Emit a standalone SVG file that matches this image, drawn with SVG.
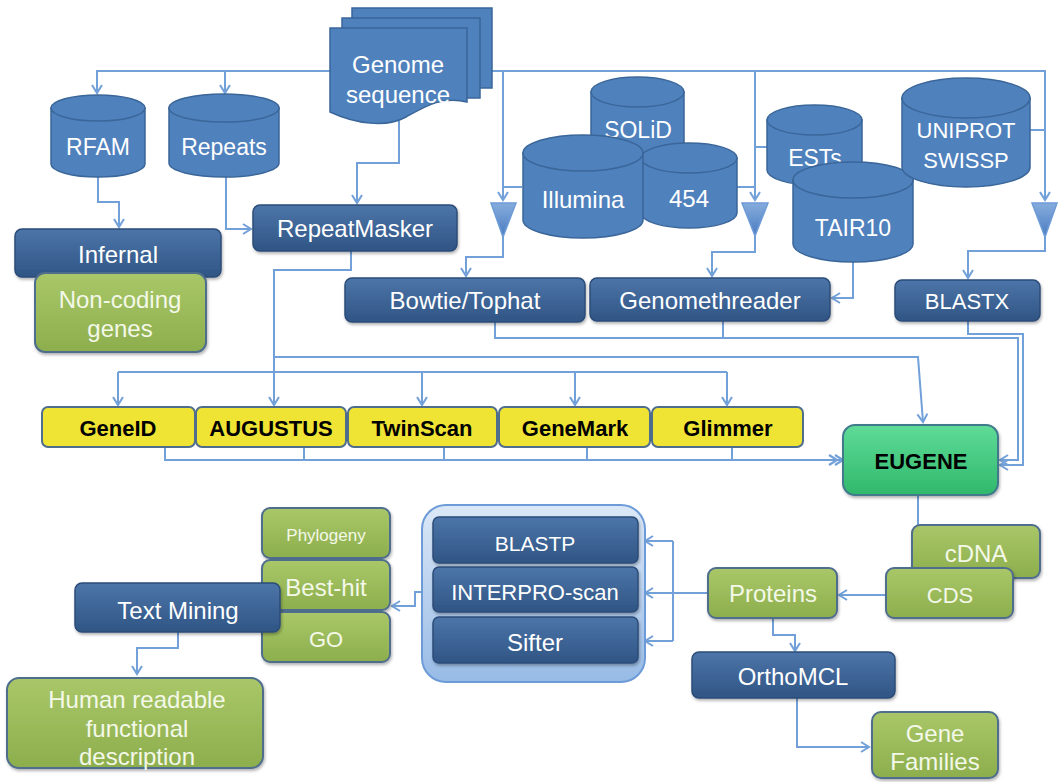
<svg xmlns="http://www.w3.org/2000/svg" width="1058" height="782" viewBox="0 0 1058 782">
<defs>
  <linearGradient id="gDark" x1="0" y1="0" x2="0" y2="1"><stop offset="0" stop-color="#4d75a9"/><stop offset="1" stop-color="#2f5584"/></linearGradient>
  <linearGradient id="gGreen" x1="0" y1="0" x2="0" y2="1"><stop offset="0" stop-color="#a9c768"/><stop offset="1" stop-color="#8dae4d"/></linearGradient>
  <linearGradient id="gEug" x1="0" y1="0" x2="0" y2="1"><stop offset="0" stop-color="#5fdb98"/><stop offset="1" stop-color="#30b86c"/></linearGradient>
  <linearGradient id="gCont" x1="0" y1="0" x2="0" y2="1"><stop offset="0" stop-color="#dce8f7"/><stop offset="1" stop-color="#97bbe6"/></linearGradient>
  <linearGradient id="gTri" x1="0" y1="0" x2="0" y2="1"><stop offset="0" stop-color="#86acdd"/><stop offset="1" stop-color="#4a7cc0"/></linearGradient>
  <filter id="sh" x="-10%" y="-10%" width="120%" height="140%"><feDropShadow dx="1" dy="2" stdDeviation="1.5" flood-color="#000" flood-opacity="0.3"/></filter>
  <marker id="arr" viewBox="0 0 12 12" markerWidth="12" markerHeight="12" refX="10" refY="6" orient="auto" markerUnits="userSpaceOnUse">
    <path d="M2,1 L10,6 L2,11" fill="none" stroke="#72a0d8" stroke-width="2"/>
  </marker>
  <marker id="dbl" viewBox="0 0 18 12" markerWidth="18" markerHeight="12" refX="16" refY="6" orient="auto" markerUnits="userSpaceOnUse">
    <path d="M2,1 L10,6 L2,11 M8,1 L16,6 L8,11" fill="none" stroke="#72a0d8" stroke-width="2.2"/>
  </marker>
</defs>
<style>
  .c{fill:none;stroke:#72a0d8;stroke-width:2}
  .cyl{fill:#4f81bd;stroke:#3a6699;stroke-width:1.5}
  .doc{fill:#4f81bd;stroke:#3a6699;stroke-width:1.5}
  .tri{fill:url(#gTri);stroke:#6d9bd8;stroke-width:1.5}
  .dk{fill:url(#gDark);stroke:#2b4c78;stroke-width:1.5;filter:url(#sh)}
  .gr{fill:url(#gGreen);stroke:#4f6d8d;stroke-width:2;filter:url(#sh)}
  .yl{fill:#efe434;stroke:#4f6d8d;stroke-width:2}
  .eu{fill:url(#gEug);stroke:#3f7a8c;stroke-width:2;filter:url(#sh)}
  .ct{fill:url(#gCont);stroke:#6d9bd8;stroke-width:2}
  text{font-family:"Liberation Sans",Arial,sans-serif;text-anchor:middle}
  .w{fill:#ffffff;font-size:24px}
  .lg{fill:#f3f8e8;font-size:24px}
  .b{fill:#000000;font-size:22px;font-weight:bold}
</style>
<rect width="1058" height="782" fill="#ffffff"/>

<g id="connectors">
  <path class="c" d="M330,71 H97 V93" marker-end="url(#arr)"/>
  <path class="c" d="M225,71 V93" marker-end="url(#arr)"/>
  <path class="c" d="M492,71 H1045 V200" marker-end="url(#arr)"/>
  <path class="c" d="M503,71 V200" marker-end="url(#arr)"/>
  <path class="c" d="M755,71 V200" marker-end="url(#arr)"/>
  <path class="c" d="M522,187 H503"/>
  <path class="c" d="M737,187 H755"/>
  <path class="c" d="M767,147 H755"/>
  <path class="c" d="M1030,130 H1045"/>
  <path class="c" d="M503,237 V257 H466 V276" marker-end="url(#arr)"/>
  <path class="c" d="M755,236 V252 H712 V276" marker-end="url(#arr)"/>
  <path class="c" d="M1045,237 V251 H968 V278" marker-end="url(#arr)"/>
  <path class="c" d="M853,262 V298 H832" marker-end="url(#arr)"/>
  <path class="c" d="M98,177 V202 H119 V227" marker-end="url(#arr)"/>
  <path class="c" d="M226,177 V229 H251" marker-end="url(#arr)"/>
  <path class="c" d="M399,121 V163 H357 V203" marker-end="url(#arr)"/>
  <path class="c" d="M351,251 V270 H274 V405" marker-end="url(#arr)"/>
  <path class="c" d="M274,357 H918 L923,422" marker-end="url(#arr)"/>
  <path class="c" d="M118,372 H727"/>
  <path class="c" d="M118,372 V405" marker-end="url(#arr)"/>
  <path class="c" d="M422,372 V405" marker-end="url(#arr)"/>
  <path class="c" d="M575,372 V405" marker-end="url(#arr)"/>
  <path class="c" d="M727,372 V405" marker-end="url(#arr)"/>
  <path class="c" d="M165,447 V460 H843" marker-end="url(#dbl)"/>
  <path class="c" d="M304,447 V460"/>
  <path class="c" d="M444,447 V460"/>
  <path class="c" d="M587,447 V460"/>
  <path class="c" d="M732,447 V460"/>
  <path class="c" d="M495,322 V338 H1018 V460 H1000" marker-end="url(#arr)"/>
  <path class="c" d="M723,321 V338"/>
  <path class="c" d="M968,321 V334 H1023 V465 H1000" marker-end="url(#arr)"/>
  <path class="c" d="M918,495 V525"/>
  <path class="c" d="M886,595 H839" marker-end="url(#arr)"/>
  <path class="c" d="M708,593 H673"/>
  <path class="c" d="M673,541 V641"/>
  <path class="c" d="M673,541 H645" marker-end="url(#arr)"/>
  <path class="c" d="M673,593 H645" marker-end="url(#arr)"/>
  <path class="c" d="M673,641 H645" marker-end="url(#arr)"/>
  <path class="c" d="M423,592 H415 V606 H392" marker-end="url(#arr)"/>
  <path class="c" d="M178,632 V648 H137 V674" marker-end="url(#arr)"/>
  <path class="c" d="M773,618 V635 H795 V651" marker-end="url(#arr)"/>
  <path class="c" d="M797,698 V747 H869" marker-end="url(#arr)"/>
</g>

<g id="funnels">
  <polygon class="tri" points="491,203 516,203 503,237"/>
  <polygon class="tri" points="742,203 768,203 755,236"/>
  <polygon class="tri" points="1032,203 1057,203 1045,237"/>
</g>

<g id="genome">
  <rect class="doc" x="352" y="8" width="140" height="80"/>
  <rect class="doc" x="342" y="18" width="138" height="80"/>
  <path class="doc" d="M330,28 H467 V102 C442,96 426,106 406,117 C386,128 356,124 330,112 Z"/>
  <text class="w" x="398" y="73">Genome</text>
  <text class="w" x="398" y="103">sequence</text>
</g>

<g id="rfam">
  <path class="cyl" d="M51,108 V164 A47,13 0 0 0 145,164 V108 Z"/>
  <ellipse class="cyl" cx="98" cy="108" rx="47" ry="13"/>
  <text class="w" x="98" y="155" style="font-size:23px">RFAM</text>
</g>
<g id="repeats">
  <path class="cyl" d="M169,108 V163 A55,14 0 0 0 279,163 V108 Z"/>
  <ellipse class="cyl" cx="224" cy="108" rx="55" ry="14"/>
  <text class="w" x="224" y="155" style="font-size:23px">Repeats</text>
</g>
<g id="solid">
  <path class="cyl" d="M591,92 V145 A46.5,15 0 0 0 684,145 V92 Z"/>
  <ellipse class="cyl" cx="637.5" cy="92" rx="46.5" ry="15"/>
  <text class="w" x="638" y="138" style="font-size:23px">SOLiD</text>
</g>
<g id="n454">
  <path class="cyl" d="M641,158 V213 A48,15 0 0 0 737,213 V158 Z"/>
  <ellipse class="cyl" cx="689" cy="158" rx="48" ry="15"/>
  <text class="w" x="689" y="207">454</text>
</g>
<g id="illumina">
  <path class="cyl" d="M523,153 V220 A60,18 0 0 0 643,220 V153 Z"/>
  <ellipse class="cyl" cx="583" cy="153" rx="60" ry="18"/>
  <text class="w" x="583" y="208">Illumina</text>
</g>
<g id="ests">
  <path class="cyl" d="M767,120 V170 A47.5,15 0 0 0 862,170 V120 Z"/>
  <ellipse class="cyl" cx="814.5" cy="120" rx="47.5" ry="15"/>
  <text class="w" x="815" y="166" style="font-size:23px">ESTs</text>
</g>
<g id="tair10">
  <path class="cyl" d="M793,180 V244 A60,18 0 0 0 913,244 V180 Z"/>
  <ellipse class="cyl" cx="853" cy="180" rx="60" ry="18"/>
  <text class="w" x="853" y="236" style="font-size:23px">TAIR10</text>
</g>
<g id="uniprot">
  <path class="cyl" d="M902,98 V167 A64,20 0 0 0 1030,167 V98 Z"/>
  <ellipse class="cyl" cx="966" cy="98" rx="64" ry="20"/>
  <text class="w" x="966" y="138" style="font-size:22px">UNIPROT</text>
  <text class="w" x="966" y="168" style="font-size:22px">SWISSP</text>
</g>

<g id="infernal">
  <rect class="dk" x="15" y="229" width="206" height="48" rx="7"/>
  <text class="w" x="118" y="263">Infernal</text>
</g>
<g id="noncoding">
  <rect class="gr" x="35" y="273" width="171" height="79" rx="10"/>
  <text class="lg" x="120" y="308">Non-coding</text>
  <text class="lg" x="120" y="337">genes</text>
</g>
<g id="repeatmasker">
  <rect class="dk" x="253" y="205" width="204" height="46" rx="7"/>
  <text class="w" x="355" y="237">RepeatMasker</text>
</g>
<g id="bowtie">
  <rect class="dk" x="345" y="278" width="240" height="44" rx="7"/>
  <text class="w" x="465" y="309">Bowtie/Tophat</text>
</g>
<g id="genomethreader">
  <rect class="dk" x="590" y="278" width="240" height="43" rx="7"/>
  <text class="w" x="710" y="309">Genomethreader</text>
</g>
<g id="blastx">
  <rect class="dk" x="895" y="280" width="145" height="41" rx="7"/>
  <text class="w" x="967" y="309" style="font-size:22px">BLASTX</text>
</g>

<g id="geneid">
  <rect class="yl" x="42" y="407" width="153" height="40" rx="6"/>
  <text class="b" x="118" y="436">GeneID</text>
</g>
<g id="augustus">
  <rect class="yl" x="196" y="407" width="150" height="40" rx="6"/>
  <text class="b" x="271" y="436">AUGUSTUS</text>
</g>
<g id="twinscan">
  <rect class="yl" x="348" y="407" width="149" height="40" rx="6"/>
  <text class="b" x="422" y="436">TwinScan</text>
</g>
<g id="genemark">
  <rect class="yl" x="499" y="407" width="151" height="40" rx="6"/>
  <text class="b" x="575" y="436">GeneMark</text>
</g>
<g id="glimmer">
  <rect class="yl" x="652" y="407" width="151" height="40" rx="6"/>
  <text class="b" x="728" y="436">Glimmer</text>
</g>

<g id="eugene">
  <rect class="eu" x="843" y="425" width="155" height="70" rx="12"/>
  <text class="b" x="921" y="469">EUGENE</text>
</g>
<g id="cdna">
  <rect class="gr" x="912" y="525" width="128" height="53" rx="8"/>
  <text class="lg" x="976" y="562">cDNA</text>
</g>
<g id="cds">
  <rect class="gr" x="886" y="568" width="127" height="50" rx="8"/>
  <text class="lg" x="950" y="603" style="font-size:22px">CDS</text>
</g>
<g id="proteins">
  <rect class="gr" x="708" y="568" width="129" height="50" rx="8"/>
  <text class="lg" x="773" y="602">Proteins</text>
</g>

<g id="analysis">
  <rect class="ct" x="422" y="505" width="223" height="177" rx="24"/>
  <g id="blastp">
    <rect class="dk" x="433" y="517" width="205" height="46" rx="6"/>
    <text class="w" x="535" y="551" style="font-size:21px">BLASTP</text>
  </g>
  <g id="interpro">
    <rect class="dk" x="433" y="567" width="205" height="45" rx="6"/>
    <text class="w" x="535" y="600" style="font-size:22px">INTERPRO-scan</text>
  </g>
  <g id="sifter">
    <rect class="dk" x="433" y="617" width="205" height="46" rx="6"/>
    <text class="w" x="535" y="651">Sifter</text>
  </g>
</g>

<g id="phylogeny">
  <rect class="gr" x="262" y="508" width="128" height="50" rx="8"/>
  <text class="lg" x="326" y="541" style="font-size:17px">Phylogeny</text>
</g>
<g id="besthit">
  <rect class="gr" x="262" y="560" width="128" height="50" rx="8"/>
  <text class="lg" x="326" y="596">Best-hit</text>
</g>
<g id="go">
  <rect class="gr" x="262" y="612" width="128" height="50" rx="8"/>
  <text class="lg" x="326" y="647" style="font-size:22px">GO</text>
</g>
<g id="textmining">
  <rect class="dk" x="75" y="583" width="205" height="49" rx="7"/>
  <text class="w" x="178" y="619">Text Mining</text>
</g>
<g id="human">
  <rect class="gr" x="7" y="678" width="256" height="90" rx="12"/>
  <text class="lg" x="137" y="708">Human readable</text>
  <text class="lg" x="137" y="737">functional</text>
  <text class="lg" x="137" y="765">description</text>
</g>
<g id="orthomcl">
  <rect class="dk" x="692" y="652" width="203" height="46" rx="7"/>
  <text class="w" x="793" y="685">OrthoMCL</text>
</g>
<g id="genefamilies">
  <rect class="gr" x="872" y="712" width="126" height="66" rx="9"/>
  <text class="lg" x="935" y="742">Gene</text>
  <text class="lg" x="935" y="770">Families</text>
</g>
</svg>
